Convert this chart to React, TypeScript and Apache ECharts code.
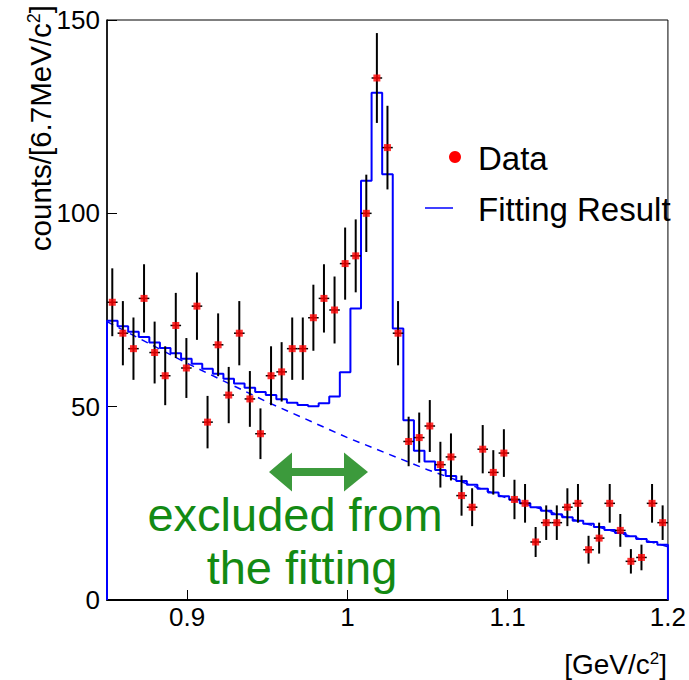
import React, { useEffect, useRef } from 'react';
import * as echarts from 'echarts';

const X_MIN = 0.85;
const X_MAX = 1.2;

// counts per 6.7 MeV bin (53 bins from 0.85 to 1.2 GeV)
const counts = [
  77, 69, 65, 78, 64, 58, 71, 60, 76, 46,
  66, 53, 69, 52, 43, 58, 59, 65, 65, 73,
  78, 75, 87, 89, 100, 135, 117, 69, 41, 42,
  45, 35, 37, 27, 24, 39, 33, 38, 26, 25,
  15, 20, 20, 24, 25, 13, 16, 25, 18, 10,
  11, 25, 20,
];

// fitted histogram (signal + background) per bin
const fitValues = [
  72.2, 70.8, 69.4, 68.0, 66.6, 65.2, 63.8, 62.4, 61.1, 59.8,
  58.5, 57.2, 56.0, 54.9, 53.8, 53.0, 51.9, 51.0, 50.4, 50.1,
  50.9, 52.6, 58.9, 75.4, 108.4, 131.2, 110.1, 70.2, 46.5, 38.6,
  35.8, 33.6, 32.1, 30.8, 29.8, 28.8, 27.8, 26.8, 25.9, 25.0,
  24.0, 23.1, 22.2, 21.4, 20.5, 19.7, 18.9, 18.1, 17.3, 16.5,
  15.8, 15.0, 14.3,
];

// background-only curve (dashed)
const bgX = [0.85, 0.9, 0.95, 1.0, 1.05, 1.1, 1.15, 1.2];
const bgY = [72.0, 61.2, 51.2, 42.0, 33.7, 26.3, 19.6, 13.8];

const xTickValues = [0.9, 1.0, 1.1, 1.2];
const yMax = 150;
const yInterval = 50;

const FONT = '"Liberation Sans", Arial, Helvetica, sans-serif';

export default function App() {
  const ref = useRef<HTMLDivElement>(null);

  useEffect(() => {
    const chart = echarts.init(ref.current!, null, { renderer: 'svg' });
    const nBins = counts.length;
    const w = (X_MAX - X_MIN) / nBins;
    const centers = counts.map((_, i) => X_MIN + (i + 0.5) * w);
    // Poisson errors sqrt(N)
    const dataPts = counts.map((c, i) => [centers[i], c, Math.sqrt(c)]);
    const markers = counts.map((c, i) => [centers[i], c]);
    const hist: number[][] = [[X_MIN, 0]];
    fitValues.forEach((v, i) => {
      hist.push([X_MIN + i * w, v]);
      hist.push([X_MIN + (i + 1) * w, v]);
    });
    hist.push([X_MAX, 0]);
    const bg = bgX.map((x, i) => [x, bgY[i]]);

    const textStyle = (text: string, x: number, y: number, size: number, fill: string, align: string) => ({
      type: 'text',
      x,
      y,
      style: {
        text,
        fill,
        fontSize: size,
        fontFamily: FONT,
        align,
        textAlign: align,
        verticalAlign: 'middle',
        textVerticalAlign: 'middle',
      },
    });

    chart.setOption({
      animation: false,
      backgroundColor: '#ffffff',
      grid: {
        left: 107,
        right: 21,
        top: 20,
        bottom: 80,
        show: true,
        borderColor: '#000',
        borderWidth: 1,
        backgroundColor: 'transparent',
      },
      xAxis: {
        type: 'value',
        min: X_MIN,
        max: X_MAX,
        axisLine: { show: true, lineStyle: { color: '#000', width: 2 } },
        axisTick: {
          show: true,
          inside: true,
          length: 10,
          customValues: [0.9, 1.0, 1.1],
          lineStyle: { color: '#000', width: 1 },
        },
        axisLabel: {
          customValues: xTickValues,
          formatter: (v: number) => String(Math.round(v * 10) / 10),
          color: '#000',
          fontSize: 26,
          fontFamily: FONT,
          margin: 4,
          showMaxLabel: true,
        },
        splitLine: { show: false },
      },
      yAxis: {
        type: 'value',
        min: 0,
        max: yMax,
        interval: yInterval,
        axisLine: { show: true, lineStyle: { color: '#000', width: 1.5 } },
        axisTick: { show: true, inside: true, length: 10, lineStyle: { color: '#000', width: 1 } },
        axisLabel: {
          color: '#000',
          fontSize: 26,
          fontFamily: FONT,
          margin: 7,
        },
        splitLine: { show: false },
      },
      series: [
        {
          type: 'line',
          data: bg,
          showSymbol: false,
          lineStyle: { color: '#0000ff', width: 1.5, type: [7, 6] },
          z: 2,
        },
        {
          type: 'line',
          data: hist,
          showSymbol: false,
          lineStyle: { color: '#0000ff', width: 2 },
          z: 3,
        },
        {
          type: 'custom',
          data: dataPts,
          encode: { x: 0, y: 1 },
          z: 4,
          renderItem: (params: any, api: any) => {
            const x = api.value(0);
            const y = api.value(1);
            const e = api.value(2);
            const top = api.coord([x, y + e]);
            const bot = api.coord([x, y - e]);
            const l = api.coord([x - w / 2, y]);
            const r = api.coord([x + w / 2, y]);
            return {
              type: 'group',
              children: [
                { type: 'line', shape: { x1: top[0], y1: top[1], x2: bot[0], y2: bot[1] }, style: { stroke: '#000', lineWidth: 2 } },
                { type: 'line', shape: { x1: l[0], y1: l[1], x2: r[0], y2: r[1] }, style: { stroke: '#000', lineWidth: 1.5 } },
              ],
            };
          },
        },
        {
          type: 'scatter',
          data: markers,
          symbol: 'rect',
          symbolSize: 7,
          itemStyle: { color: '#ff0000' },
          z: 5,
        },
      ],
      graphic: [
        // y-axis title
        {
          type: 'text',
          x: 40,
          y: 5,
          rotation: Math.PI / 2,
          style: {
            text: 'counts/[6.7MeV/c{sup|2}]',
            fill: '#000',
            fontSize: 29.5,
            fontFamily: FONT,
            align: 'right',
            textAlign: 'right',
            verticalAlign: 'middle',
            textVerticalAlign: 'middle',
            rich: { sup: { fontSize: 18, fontFamily: FONT, verticalAlign: 'top', fill: '#000' } },
          },
        },
        // x-axis title
        {
          type: 'text',
          x: 667,
          y: 664,
          style: {
            text: '[GeV/c{sup|2}]',
            fill: '#000',
            fontSize: 28,
            fontFamily: FONT,
            align: 'right',
            textAlign: 'right',
            verticalAlign: 'middle',
            textVerticalAlign: 'middle',
            rich: { sup: { fontSize: 17, fontFamily: FONT, verticalAlign: 'top', fill: '#000' } },
          },
        },
        // legend
        { type: 'circle', shape: { cx: 455, cy: 157, r: 6 }, style: { fill: '#ff0000' } },
        textStyle('Data', 478, 158, 33, '#000', 'left'),
        { type: 'line', shape: { x1: 425, y1: 208, x2: 453, y2: 208 }, style: { stroke: '#0000ff', lineWidth: 1.5 } },
        textStyle('Fitting Result', 478, 209, 33, '#000', 'left'),
        // excluded-region arrow
        {
          type: 'polygon',
          shape: {
            points: [
              [269, 472], [292, 452.5], [292, 468], [344, 468], [344, 452.5],
              [368, 472], [344, 491.5], [344, 476], [292, 476], [292, 491.5],
            ],
          },
          style: { fill: '#3c9a3c' },
        },
        textStyle('excluded from', 295, 514, 47, '#138a13', 'center'),
        textStyle('the fitting', 302, 567, 47, '#138a13', 'center'),
      ],
    });

    return () => chart.dispose();
  }, []);

  return (
    <div
      ref={ref}
      style={{ position: 'fixed', left: 0, top: 0, width: 689, height: 680, background: '#fff' }}
    />
  );
}
